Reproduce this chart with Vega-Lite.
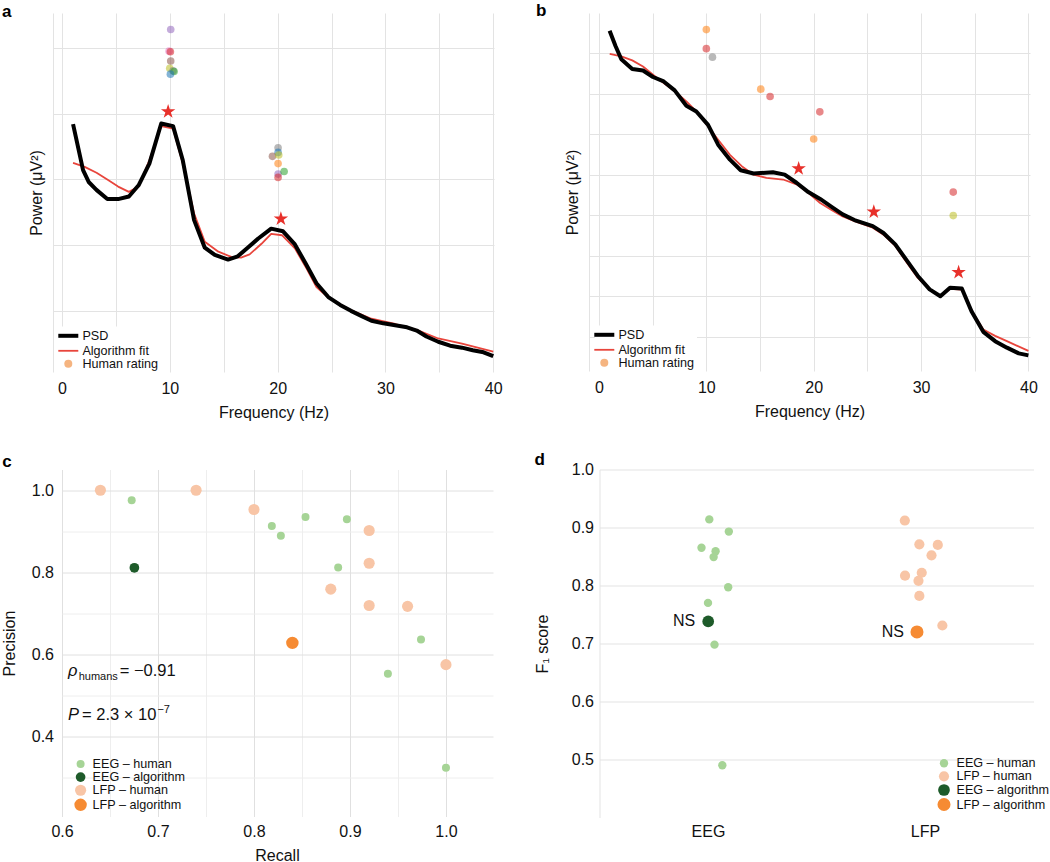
{
  "$schema": "https://vega.github.io/schema/vega-lite/v6.json",
  "background": "white",
  "padding": {"left": 1, "top": 2, "right": 4, "bottom": 4},
  "config": {
    "font": "Liberation Sans",
    "view": {"stroke": null},
    "axis": {"labelFontSize": 16, "titleFontSize": 16, "titleFontWeight": "normal", "labelColor": "#111111", "titleColor": "#111111", "gridColor": "#e3e3e3", "gridWidth": 1, "ticks": false, "tickSize": 0, "domainColor": "#e3e3e3", "labelFont": "Liberation Sans", "titleFont": "Liberation Sans", "labelFlush": false},
    "legend": {"labelFontSize": 12.6, "labelColor": "#111111", "labelFont": "Liberation Sans"},
    "title": {"fontSize": 17, "fontWeight": "bold", "anchor": "start", "frame": "group", "offset": 0, "baseline": "alphabetic", "color": "#000000", "font": "Liberation Sans"}
  },
  "datasets": {
    "psdA": [
      {"f":1.02,"v":3.84},{"f":1.95,"v":3.14},{"f":2.47,"v":2.96},{"f":3.19,"v":2.84},{"f":4.2,"v":2.70},{"f":5.2,"v":2.70},{"f":6.2,"v":2.74},{"f":7.1,"v":2.91},{"f":8.1,"v":3.24},{"f":9.2,"v":3.85},{"f":10.3,"v":3.81},{"f":11.2,"v":3.29},{"f":12.25,"v":2.38},{"f":13.24,"v":1.96},{"f":14.17,"v":1.85},{"f":15.4,"v":1.78},{"f":16.3,"v":1.83},{"f":17.3,"v":1.97},{"f":18.2,"v":2.10},{"f":19.4,"v":2.25},{"f":20.5,"v":2.21},{"f":21.6,"v":2.01},{"f":22.6,"v":1.72},{"f":23.6,"v":1.42},{"f":24.7,"v":1.21},{"f":25.8,"v":1.09},{"f":26.8,"v":1.00},{"f":27.8,"v":0.92},{"f":28.7,"v":0.85},{"f":29.8,"v":0.81},{"f":30.9,"v":0.78},{"f":32.0,"v":0.75},{"f":32.9,"v":0.70},{"f":33.8,"v":0.61},{"f":34.9,"v":0.53},{"f":36.0,"v":0.47},{"f":37.1,"v":0.44},{"f":38.1,"v":0.40},{"f":39.1,"v":0.37},{"f":40,"v":0.31}
    ],
    "fitA": [
      {"f":1.02,"v":3.25},{"f":2.1,"v":3.19},{"f":3.2,"v":3.10},{"f":4.27,"v":2.99},{"f":5.2,"v":2.89},{"f":6.2,"v":2.81},{"f":7.1,"v":2.89},{"f":8.1,"v":3.29},{"f":9.2,"v":3.81},{"f":10.3,"v":3.77},{"f":11.2,"v":3.24},{"f":12.25,"v":2.48},{"f":13.24,"v":2.05},{"f":14.5,"v":1.90},{"f":15.7,"v":1.82},{"f":16.6,"v":1.81},{"f":17.4,"v":1.86},{"f":18.5,"v":2.02},{"f":19.4,"v":2.17},{"f":20.4,"v":2.15},{"f":21.6,"v":1.95},{"f":22.7,"v":1.64},{"f":23.6,"v":1.36},{"f":24.7,"v":1.20},{"f":26.8,"v":1.01},{"f":28.7,"v":0.88},{"f":30.9,"v":0.80},{"f":32.9,"v":0.71},{"f":34.9,"v":0.58},{"f":37.1,"v":0.50},{"f":40,"v":0.38}
    ],
    "starsA": [{"f":9.84,"v":4.03},{"f":20.3,"v":2.40}],
    "humanA": [
      {"f":10.08,"v":5.28,"rater":"R5"},{"f":9.93,"v":4.95,"rater":"R7"},{"f":10.05,"v":4.94,"rater":"R4"},{"f":10.08,"v":4.80,"rater":"R6"},{"f":9.99,"v":4.69,"rater":"R9"},{"f":10.3,"v":4.65,"rater":"R8"},{"f":10.39,"v":4.64,"rater":"R3"},{"f":10.05,"v":4.60,"rater":"R1"},
      {"f":20.04,"v":3.48,"rater":"R8"},{"f":20.04,"v":3.41,"rater":"R1"},{"f":19.52,"v":3.35,"rater":"R6"},{"f":20.1,"v":3.37,"rater":"R9"},{"f":20.04,"v":3.24,"rater":"R2"},{"f":20.04,"v":3.08,"rater":"R5"},{"f":20.04,"v":3.03,"rater":"R4"},{"f":20.6,"v":3.12,"rater":"R3"}
    ],
    "psdB": [
      {"f":0.99,"v":8.55},{"f":1.55,"v":8.17},{"f":2.08,"v":7.85},{"f":3.1,"v":7.61},{"f":4.1,"v":7.57},{"f":5.03,"v":7.41},{"f":6.03,"v":7.30},{"f":7.05,"v":7.08},{"f":8.14,"v":6.70},{"f":9.07,"v":6.56},{"f":10.16,"v":6.23},{"f":11.1,"v":5.74},{"f":12.2,"v":5.37},{"f":13.2,"v":5.11},{"f":14.4,"v":5.03},{"f":16.2,"v":5.06},{"f":17.3,"v":5.00},{"f":18.4,"v":4.80},{"f":19.5,"v":4.57},{"f":20.6,"v":4.40},{"f":21.7,"v":4.20},{"f":22.7,"v":4.02},{"f":23.8,"v":3.88},{"f":25.5,"v":3.73},{"f":26.5,"v":3.56},{"f":27.6,"v":3.28},{"f":28.7,"v":2.87},{"f":29.7,"v":2.50},{"f":30.8,"v":2.17},{"f":31.8,"v":2.00},{"f":32.7,"v":2.21},{"f":33.8,"v":2.19},{"f":34.7,"v":1.63},{"f":35.8,"v":1.12},{"f":36.9,"v":0.89},{"f":38.0,"v":0.73},{"f":39.1,"v":0.59},{"f":40,"v":0.54}
    ],
    "fitB": [
      {"f":1.0,"v":7.98},{"f":2.08,"v":7.92},{"f":3.1,"v":7.82},{"f":4.1,"v":7.67},{"f":5.03,"v":7.47},{"f":6.03,"v":7.26},{"f":7.05,"v":7.06},{"f":8.14,"v":6.81},{"f":9.07,"v":6.56},{"f":10.16,"v":6.19},{"f":11.1,"v":5.86},{"f":12.2,"v":5.49},{"f":13.3,"v":5.21},{"f":14.4,"v":5.00},{"f":15.6,"v":4.92},{"f":17.15,"v":4.88},{"f":18.4,"v":4.76},{"f":19.5,"v":4.55},{"f":20.6,"v":4.30},{"f":21.7,"v":4.12},{"f":22.7,"v":3.97},{"f":23.8,"v":3.85},{"f":25.5,"v":3.69},{"f":26.5,"v":3.52},{"f":27.6,"v":3.24},{"f":28.7,"v":2.82},{"f":29.7,"v":2.45},{"f":30.8,"v":2.17},{"f":31.8,"v":2.00},{"f":32.7,"v":2.18},{"f":33.8,"v":2.16},{"f":34.7,"v":1.65},{"f":35.8,"v":1.18},{"f":36.9,"v":1.02},{"f":38.0,"v":0.89},{"f":40,"v":0.65}
    ],
    "starsB": [{"f":18.6,"v":5.15},{"f":25.6,"v":4.08},{"f":33.5,"v":2.59}],
    "humanB": [
      {"f":10.0,"v":8.58,"rater":"R2"},{"f":10.0,"v":8.11,"rater":"R4"},{"f":10.57,"v":7.90,"rater":"R8"},{"f":15.07,"v":7.11,"rater":"R2"},{"f":15.94,"v":6.93,"rater":"R4"},{"f":20.57,"v":6.55,"rater":"R4"},{"f":20.0,"v":5.88,"rater":"R2"},{"f":33.0,"v":4.57,"rater":"R4"},{"f":33.0,"v":3.99,"rater":"R9"}
    ],
    "prC": [
      {"recall":0.6726,"precision":0.9756,"group":"EEG – human"},{"recall":0.8186,"precision":0.913,"group":"EEG – human"},{"recall":0.828,"precision":0.889,"group":"EEG – human"},{"recall":0.8537,"precision":0.935,"group":"EEG – human"},{"recall":0.8968,"precision":0.929,"group":"EEG – human"},{"recall":0.8877,"precision":0.812,"group":"EEG – human"},{"recall":0.974,"precision":0.636,"group":"EEG – human"},{"recall":0.9395,"precision":0.553,"group":"EEG – human"},{"recall":1.0,"precision":0.324,"group":"EEG – human"},
      {"recall":0.64,"precision":1.0,"group":"LFP – human"},{"recall":0.7397,"precision":1.0,"group":"LFP – human"},{"recall":0.80,"precision":0.953,"group":"LFP – human"},{"recall":0.92,"precision":0.902,"group":"LFP – human"},{"recall":0.92,"precision":0.822,"group":"LFP – human"},{"recall":0.88,"precision":0.759,"group":"LFP – human"},{"recall":0.92,"precision":0.719,"group":"LFP – human"},{"recall":0.96,"precision":0.717,"group":"LFP – human"},{"recall":1.0,"precision":0.575,"group":"LFP – human"},
      {"recall":0.6754,"precision":0.811,"group":"EEG – algorithm"},{"recall":0.84,"precision":0.628,"group":"LFP – algorithm"}
    ],
    "f1D": [
      {"x":0.506,"f1":0.914,"group":"EEG – human"},{"x":0.596,"f1":0.893,"group":"EEG – human"},{"x":0.470,"f1":0.865,"group":"EEG – human"},{"x":0.535,"f1":0.859,"group":"EEG – human"},{"x":0.526,"f1":0.849,"group":"EEG – human"},{"x":0.593,"f1":0.797,"group":"EEG – human"},{"x":0.500,"f1":0.770,"group":"EEG – human"},{"x":0.530,"f1":0.698,"group":"EEG – human"},{"x":0.566,"f1":0.490,"group":"EEG – human"},
      {"x":1.407,"f1":0.912,"group":"LFP – human"},{"x":1.474,"f1":0.871,"group":"LFP – human"},{"x":1.559,"f1":0.870,"group":"LFP – human"},{"x":1.530,"f1":0.852,"group":"LFP – human"},{"x":1.485,"f1":0.822,"group":"LFP – human"},{"x":1.408,"f1":0.817,"group":"LFP – human"},{"x":1.470,"f1":0.808,"group":"LFP – human"},{"x":1.474,"f1":0.782,"group":"LFP – human"},{"x":1.580,"f1":0.731,"group":"LFP – human"},
      {"x":0.501,"f1":0.738,"group":"EEG – algorithm"},{"x":1.463,"f1":0.720,"group":"LFP – algorithm"}
    ]
  },
  "columns": 1,
  "align": "none",
  "spacing": 29.5,
  "resolve": {"scale": {"color": "independent", "size": "independent", "fill": "independent", "x": "independent", "y": "independent"}, "legend": {"color": "independent", "size": "independent", "fill": "independent"}},
  "concat": [
    {
      "spacing": 33,
      "resolve": {"scale": {"color": "independent", "size": "independent", "fill": "independent", "x": "independent", "y": "independent"}, "legend": {"color": "independent", "size": "independent", "fill": "independent"}},
      "hconcat": [
        {
          "width": 441, "height": 359,
          "title": {"text": "a", "dx": -51, "dy": 11.6},
          "layer": [
            {
              "data": {"name": "fitA"},
              "mark": {"type": "line", "strokeWidth": 1.8, "strokeJoin": "round"},
              "encoding": {
                "x": {"field": "f", "type": "quantitative", "scale": {"domain": [-0.84, 40.07], "nice": false, "zero": false},
                      "axis": {"values": [0,5,10,15,20,25,30,35,40], "labelExpr": "datum.value % 10 === 0 ? datum.label : ''", "grid": true, "domain": false, "labelPadding": 8.5, "title": "Frequency (Hz)", "titlePadding": 8}},
                "y": {"field": "v", "type": "quantitative", "scale": {"domain": [0.07, 5.53], "nice": false, "zero": false},
                      "axis": {"values": [1,2,3,4,5], "labels": false, "grid": true, "domain": true, "title": "Power (μV²)", "titlePadding": 9}},
                "color": {"datum": "Algorithm fit", "type": "nominal",
                          "scale": {"domain": ["PSD", "Algorithm fit", "Human rating"], "range": ["#000000", "#e8453c", "#f5b480"]},
                          "legend": {"title": null, "orient": "none", "legendX": 6, "legendY": 313.5, "padding": 3, "fillColor": "white", "rowPadding": 0, "labelOffset": 7.8, "symbolSize": 100,
                                     "encode": {"symbols": {"update": {
                                       "shape": {"signal": "datum.value === 'Human rating' ? 'circle' : 'stroke'"},
                                       "size": {"signal": "datum.value === 'Human rating' ? 64 : 400"},
                                       "strokeWidth": {"signal": "datum.value === 'PSD' ? 4 : datum.value === 'Algorithm fit' ? 1.8 : 0"},
                                       "fill": {"signal": "datum.value === 'Human rating' ? '#f5b480' : 'transparent'"},
                                       "opacity": {"value": 1}}}}}}
              }
            },
            {
              "data": {"name": "psdA"},
              "mark": {"type": "line", "strokeWidth": 4, "strokeJoin": "round"},
              "encoding": {
                "x": {"field": "f", "type": "quantitative"},
                "y": {"field": "v", "type": "quantitative"},
                "color": {"datum": "PSD", "type": "nominal"}
              }
            },
            {
              "data": {"name": "humanA"},
              "mark": {"type": "circle", "size": 58, "opacity": 0.55},
              "encoding": {
                "x": {"field": "f", "type": "quantitative"},
                "y": {"field": "v", "type": "quantitative"},
                "fill": {"field": "rater", "type": "nominal", "scale": {"domain": ["R1","R2","R3","R4","R5","R6","R7","R8","R9"], "range": ["#1f77b4","#ff7f0e","#2ca02c","#d62728","#9467bd","#8c564b","#e377c2","#7f7f7f","#bcbd22"]}, "legend": null}
              }
            },
            {
              "data": {"name": "starsA"},
              "mark": {"type": "point", "filled": true, "opacity": 1, "size": 230, "color": "#e8302a", "shape": "M0,-1L0.2245,-0.309L0.951,-0.309L0.363,0.118L0.588,0.809L0,0.382L-0.588,0.809L-0.363,0.118L-0.951,-0.309L-0.2245,-0.309Z"},
              "encoding": {
                "x": {"field": "f", "type": "quantitative"},
                "y": {"field": "v", "type": "quantitative"}
              }
            }
          ]
        },
        {
          "width": 441, "height": 358,
          "title": {"text": "b", "dx": -53, "dy": 11.4},
          "layer": [
            {
              "data": {"name": "fitB"},
              "mark": {"type": "line", "strokeWidth": 1.8, "strokeJoin": "round"},
              "encoding": {
                "x": {"field": "f", "type": "quantitative", "scale": {"domain": [-0.93, 40.15], "nice": false, "zero": false},
                      "axis": {"values": [0,5,10,15,20,25,30,35,40], "labelExpr": "datum.value % 10 === 0 ? datum.label : ''", "grid": true, "domain": false, "labelPadding": 8.5, "title": "Frequency (Hz)", "titlePadding": 8}},
                "y": {"field": "v", "type": "quantitative", "scale": {"domain": [0.154, 8.99], "nice": false, "zero": false},
                      "axis": {"values": [1,2,3,4,5,6,7,8], "labels": false, "grid": true, "domain": true, "title": "Power (μV²)", "titlePadding": 9}},
                "color": {"datum": "Algorithm fit", "type": "nominal",
                          "scale": {"domain": ["PSD", "Algorithm fit", "Human rating"], "range": ["#000000", "#e8453c", "#f5b480"]},
                          "legend": {"title": null, "orient": "none", "legendX": 6, "legendY": 312.5, "padding": 3, "fillColor": "white", "rowPadding": 0, "labelOffset": 7.8, "symbolSize": 100,
                                     "encode": {"symbols": {"update": {
                                       "shape": {"signal": "datum.value === 'Human rating' ? 'circle' : 'stroke'"},
                                       "size": {"signal": "datum.value === 'Human rating' ? 64 : 400"},
                                       "strokeWidth": {"signal": "datum.value === 'PSD' ? 4 : datum.value === 'Algorithm fit' ? 1.8 : 0"},
                                       "fill": {"signal": "datum.value === 'Human rating' ? '#f5b480' : 'transparent'"},
                                       "opacity": {"value": 1}}}}}}
              }
            },
            {
              "data": {"name": "psdB"},
              "mark": {"type": "line", "strokeWidth": 4, "strokeJoin": "round"},
              "encoding": {
                "x": {"field": "f", "type": "quantitative"},
                "y": {"field": "v", "type": "quantitative"},
                "color": {"datum": "PSD", "type": "nominal"}
              }
            },
            {
              "data": {"name": "humanB"},
              "mark": {"type": "circle", "size": 58, "opacity": 0.55},
              "encoding": {
                "x": {"field": "f", "type": "quantitative"},
                "y": {"field": "v", "type": "quantitative"},
                "fill": {"field": "rater", "type": "nominal", "scale": {"domain": ["R1","R2","R3","R4","R5","R6","R7","R8","R9"], "range": ["#1f77b4","#ff7f0e","#2ca02c","#d62728","#9467bd","#8c564b","#e377c2","#7f7f7f","#bcbd22"]}, "legend": null}
              }
            },
            {
              "data": {"name": "starsB"},
              "mark": {"type": "point", "filled": true, "opacity": 1, "size": 230, "color": "#e8302a", "shape": "M0,-1L0.2245,-0.309L0.951,-0.309L0.363,0.118L0.588,0.809L0,0.382L-0.588,0.809L-0.363,0.118L-0.951,-0.309L-0.2245,-0.309Z"},
              "encoding": {
                "x": {"field": "f", "type": "quantitative"},
                "y": {"field": "v", "type": "quantitative"}
              }
            }
          ]
        }
      ]
    },
    {
      "spacing": 41.5,
      "resolve": {"scale": {"color": "independent", "size": "independent", "fill": "independent", "x": "independent", "y": "independent"}, "legend": {"color": "independent", "size": "independent", "fill": "independent"}},
      "hconcat": [
        {
          "width": 440, "height": 347,
          "title": {"text": "c", "dx": -50.7, "dy": 5.2},
          "layer": [
            {
              "data": {"name": "prC"},
              "mark": {"type": "point", "filled": true, "opacity": 1, "strokeWidth": 0},
              "encoding": {
                "x": {"field": "recall", "type": "quantitative", "scale": {"domain": [0.59062, 1.049], "nice": false, "zero": false},
                      "axis": {"values": [0.6,0.65,0.7,0.75,0.8,0.85,0.9,0.95,1.0], "labelExpr": "abs(datum.value*10 - round(datum.value*10)) > 0.1 ? '' : format(datum.value, '.1f')", "grid": true, "gridColor": {"condition": {"test": "abs(datum.value*10 - round(datum.value*10)) > 0.1", "value": "#eeeeee"}, "value": "#e0e0e0"}, "domain": false, "labelPadding": 7, "title": "Recall", "titlePadding": 8, "titleX": 224}},
                "y": {"field": "precision", "type": "quantitative", "scale": {"domain": [0.205, 1.0505], "nice": false, "zero": false},
                      "axis": {"values": [0.3,0.4,0.5,0.6,0.7,0.8,0.9,1.0], "labelExpr": "round(datum.value*10) % 2 === 1 ? '' : format(datum.value, '.1f')", "grid": true, "gridDash": [0, 9, 2000, 0], "gridColor": {"condition": {"test": "round(datum.value*10) % 2 === 1", "value": "#eeeeee"}, "value": "#e0e0e0"}, "domain": false, "labelPadding": -0.5, "title": "Precision", "titlePadding": 14}},
                "color": {"field": "group", "type": "nominal", "scale": {"domain": ["EEG – human", "EEG – algorithm", "LFP – human", "LFP – algorithm"], "range": ["#a6d496", "#1e5b2a", "#f8c5a6", "#f68b33"]},
                          "legend": {"title": null, "orient": "none", "legendX": 20.6, "legendY": 288.3, "padding": 0, "rowPadding": 0, "labelOffset": 5}},
                "size": {"field": "group", "type": "nominal", "scale": {"domain": ["EEG – human", "EEG – algorithm", "LFP – human", "LFP – algorithm"], "range": [64, 154, 64, 154]},
                          "legend": {"title": null, "orient": "none", "legendX": 20.6, "legendY": 288.3, "padding": 0, "rowPadding": 0, "labelOffset": 5}}
              }
            },
            {
              "data": {"values": [{"x": 0.6063, "y": 0.5463, "t": "ρ"}, {"x": 0.6063, "y": 0.4407, "t": "P"}]},
              "mark": {"type": "text", "align": "left", "baseline": "alphabetic", "fontSize": 16.5, "fontStyle": "italic", "color": "#111111"},
              "encoding": {"x": {"field": "x", "type": "quantitative"}, "y": {"field": "y", "type": "quantitative"}, "text": {"field": "t"}}
            },
            {
              "data": {"values": [{"x": 0.6174, "y": 0.5366, "t": "humans"}, {"x": 0.6994, "y": 0.4569, "t": "−7"}]},
              "mark": {"type": "text", "align": "left", "baseline": "alphabetic", "fontSize": 11, "color": "#111111"},
              "encoding": {"x": {"field": "x", "type": "quantitative"}, "y": {"field": "y", "type": "quantitative"}, "text": {"field": "t"}}
            },
            {
              "data": {"values": [{"x": 0.6601, "y": 0.5463, "t": "= −0.91"}, {"x": 0.6209, "y": 0.4407, "t": "= 2.3 × 10"}]},
              "mark": {"type": "text", "align": "left", "baseline": "alphabetic", "fontSize": 16.5, "color": "#111111"},
              "encoding": {"x": {"field": "x", "type": "quantitative"}, "y": {"field": "y", "type": "quantitative"}, "text": {"field": "t"}}
            }
          ]
        },
        {
          "width": 434, "height": 348,
          "title": {"text": "d", "dx": -65, "dy": 11.6},
          "layer": [
            {
              "data": {"name": "f1D"},
              "mark": {"type": "point", "filled": true, "opacity": 1, "strokeWidth": 0},
              "encoding": {
                "x": {"field": "x", "type": "quantitative", "scale": {"domain": [0, 2], "nice": false, "zero": false},
                      "axis": {"values": [0.5, 1.5], "labelExpr": "datum.value < 1 ? 'EEG' : 'LFP'", "grid": false, "domain": false, "labelPadding": 5.5, "title": null}},
                "y": {"field": "f1", "type": "quantitative", "scale": {"domain": [0.4, 1.0], "nice": false, "zero": false},
                      "axis": {"values": [0.5,0.6,0.7,0.8,0.9,1.0], "format": ".1f", "grid": true, "domain": true, "labelPadding": 6, "title": "F₁ score", "titlePadding": 20.5}},
                "color": {"field": "group", "type": "nominal", "scale": {"domain": ["EEG – human", "LFP – human", "EEG – algorithm", "LFP – algorithm"], "range": ["#a6d496", "#f8c5a6", "#1e5b2a", "#f68b33"]},
                          "legend": {"title": null, "orient": "none", "legendX": 337, "legendY": 287.5, "padding": 0, "rowPadding": 0, "labelOffset": 5}},
                "size": {"field": "group", "type": "nominal", "scale": {"domain": ["EEG – human", "LFP – human", "EEG – algorithm", "LFP – algorithm"], "range": [70, 170, 70, 170]},
                          "legend": {"title": null, "orient": "none", "legendX": 337, "legendY": 287.5, "padding": 0, "rowPadding": 0, "labelOffset": 5}}
              }
            },
            {
              "data": {"name": "f1D"},
              "transform": [{"filter": "indexof(datum.group, 'algorithm') >= 0"}],
              "mark": {"type": "text", "text": "NS", "align": "right", "baseline": "middle", "dx": -13, "fontSize": 16, "color": "#111111"},
              "encoding": {"x": {"field": "x", "type": "quantitative"}, "y": {"field": "f1", "type": "quantitative"}}
            }
          ]
        }
      ]
    }
  ]
}
